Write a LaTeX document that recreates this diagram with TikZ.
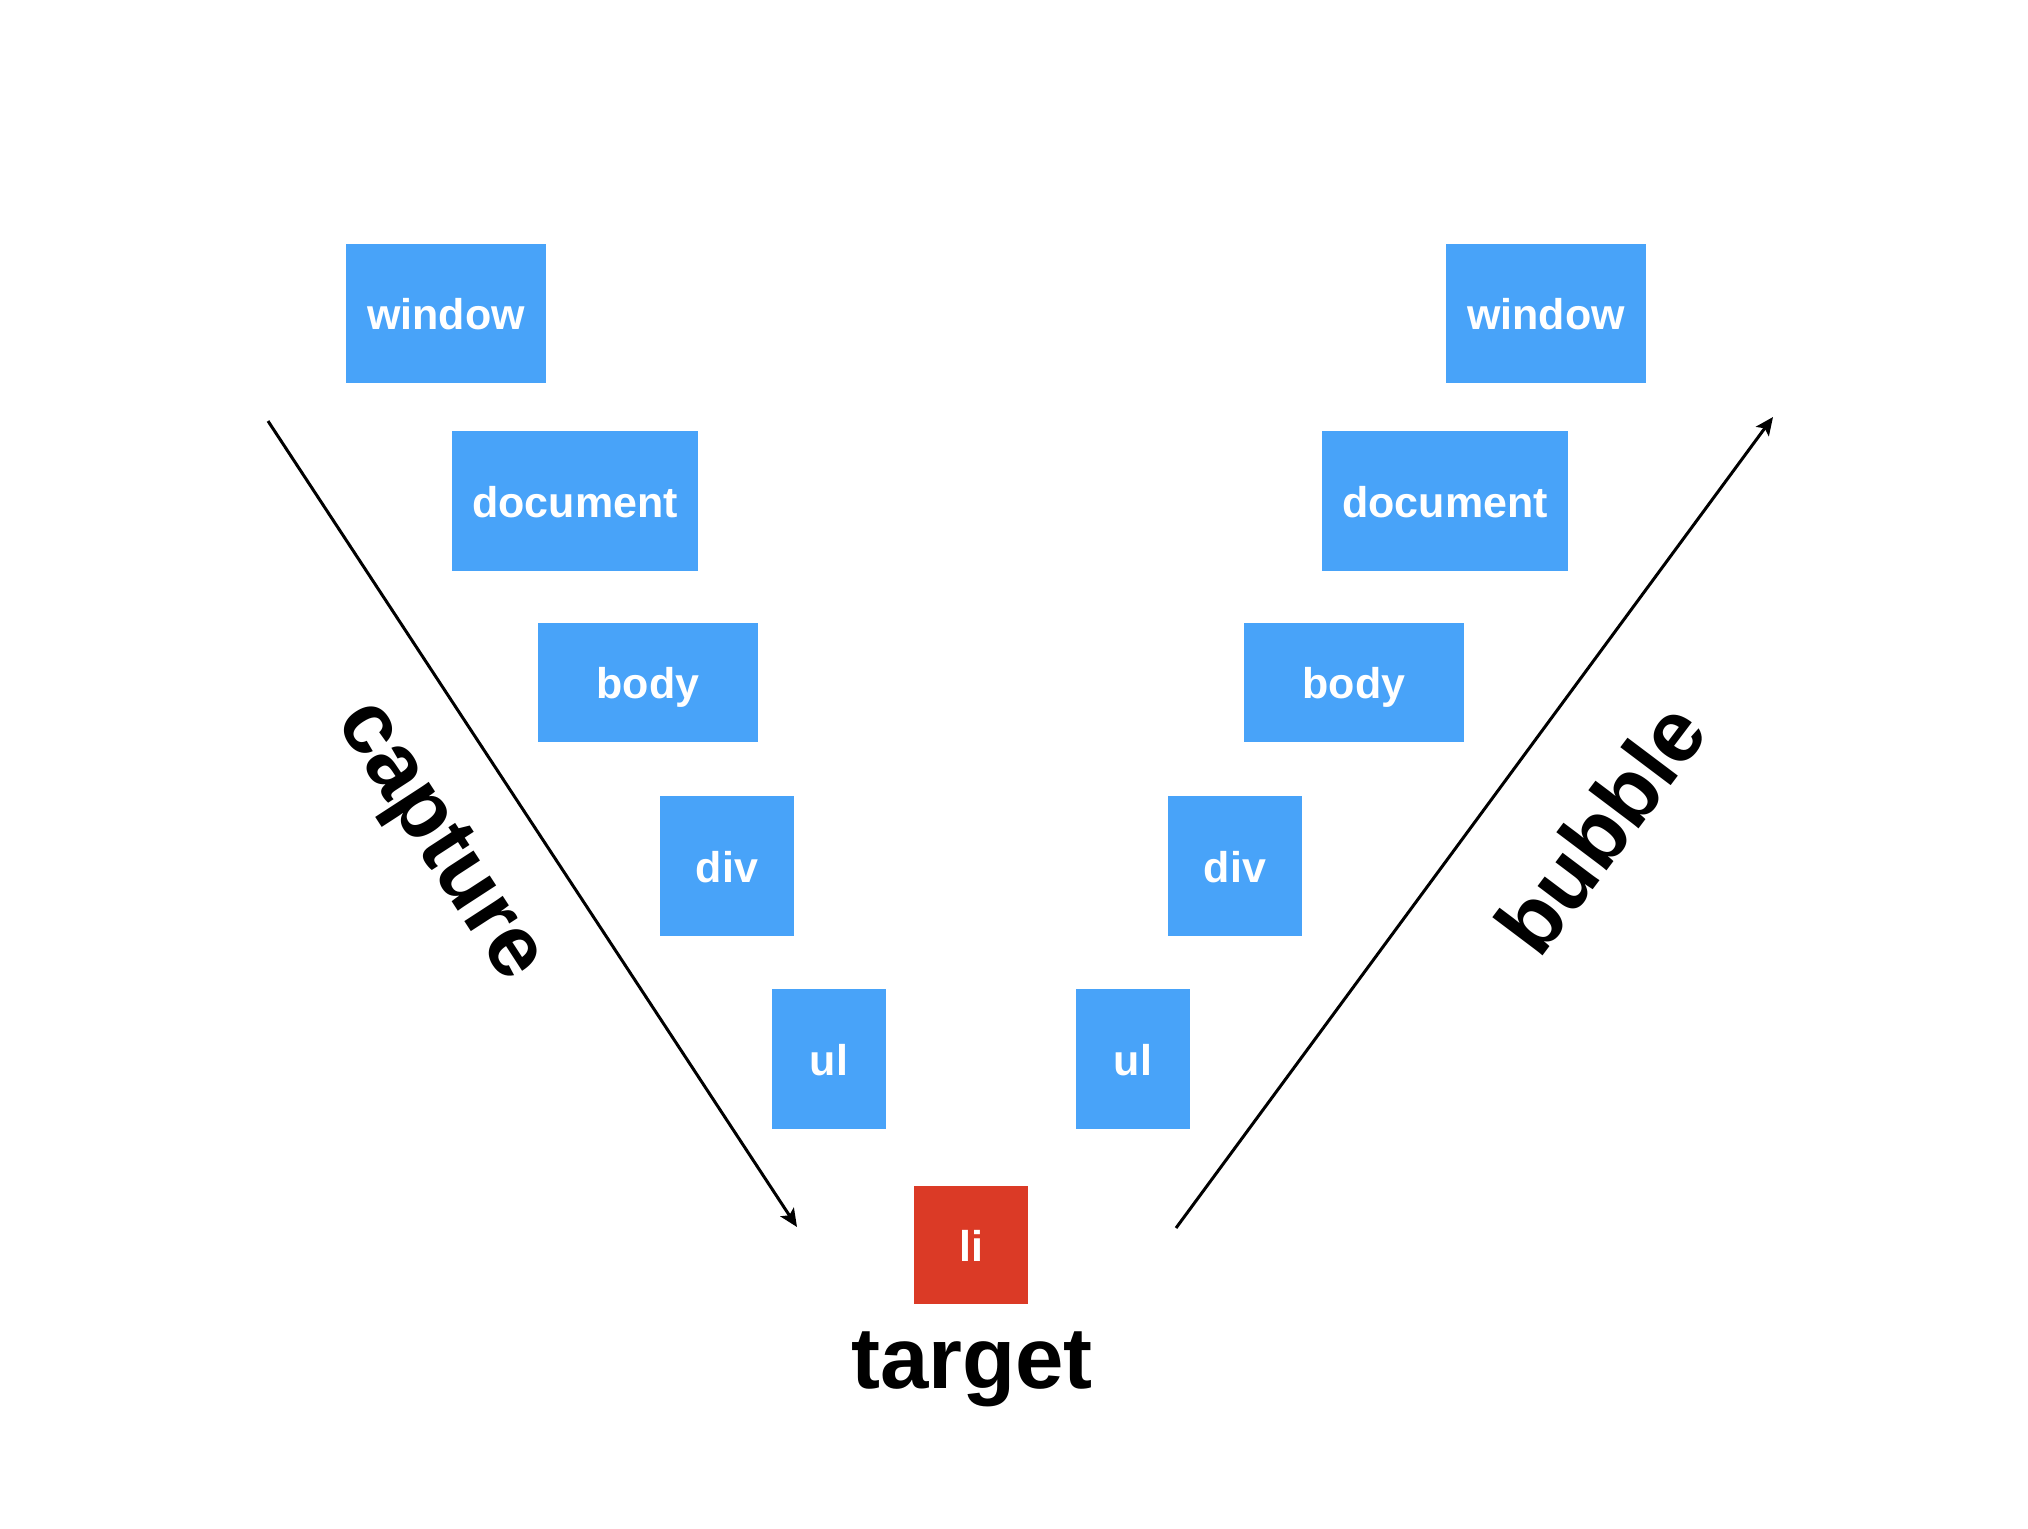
\documentclass[tikz,border=0pt]{standalone}
\usepackage{fontspec}
\setmainfont{Liberation Sans}
\usetikzlibrary{arrows.meta}

\definecolor{elemblue}{HTML}{48A3F9}
\definecolor{targetred}{HTML}{DB3A26}

\tikzset{
    elem/.style={fill=elemblue, text=white, inner sep=0pt,
        font=\bfseries\fontsize{21.5}{24}\selectfont,
        text height=16pt, text depth=0pt},
    phase/.style={font=\bfseries\fontsize{43.5}{48}\selectfont},
    flow/.style={line width=1.5pt, -{Stealth[length=9pt,width=8pt,inset=2pt]}}
}

\begin{document}
\begin{tikzpicture}[x=0.5pt, y=-0.5pt]
    \useasboundingbox (0, 0) rectangle (2028, 1528);

    % Capture side
    \node[elem, minimum width=100pt, minimum height=69.5pt] (winL)  at (446, 313.5) {window};
    \node[elem, minimum width=123pt, minimum height=70pt]   (docL)  at (575, 501)   {document};
    \node[elem, minimum width=110pt, minimum height=59.5pt] (bodyL) at (648, 682.5) {body};
    \node[elem, minimum width=67pt,  minimum height=70pt]   (divL)  at (727, 866)   {div};
    \node[elem, minimum width=57pt,  minimum height=70pt]   (ulL)   at (829, 1059)  {ul};

    % Target
    \node[elem, fill=targetred, minimum width=57pt, minimum height=59pt] (li) at (971, 1245) {li};
    \node[phase, anchor=base] (target) at (972, 1388) {target};

    % Bubble side
    \node[elem, minimum width=57pt,  minimum height=70pt]   (ulR)   at (1133, 1059)  {ul};
    \node[elem, minimum width=67pt,  minimum height=70pt]   (divR)  at (1235, 866)   {div};
    \node[elem, minimum width=110pt, minimum height=59.5pt] (bodyR) at (1354, 682.5) {body};
    \node[elem, minimum width=123pt, minimum height=70pt]   (docR)  at (1445, 501)   {document};
    \node[elem, minimum width=100pt, minimum height=69.5pt] (winR)  at (1546, 313.5) {window};

    % Arrows
    \coordinate (capStart) at (268, 421);
    \coordinate (capEnd)   at (797, 1227);
    \coordinate (bubStart) at (1176, 1228);
    \coordinate (bubEnd)   at (1773, 417);
    \draw[flow] (capStart) -- (capEnd);
    \draw[flow] (bubStart) -- (bubEnd);

    % Labels
    \node[phase, rotate=-57] (capture) at (437, 843) {capture};
    \node[phase, rotate=53]  (bubble)  at (1600, 828) {bubble};
\end{tikzpicture}
\end{document}
